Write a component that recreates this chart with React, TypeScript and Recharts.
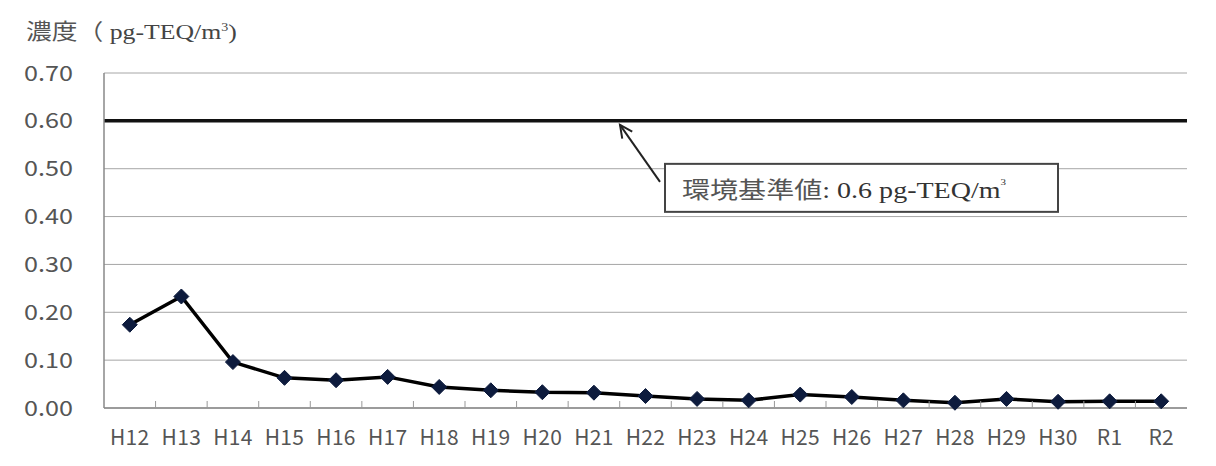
import React from 'react';
import { LineChart, Line, XAxis, YAxis, CartesianGrid, ReferenceLine } from 'recharts';

const years = ['H12', 'H13', 'H14', 'H15', 'H16', 'H17', 'H18', 'H19', 'H20', 'H21', 'H22', 'H23', 'H24', 'H25', 'H26', 'H27', 'H28', 'H29', 'H30', 'R1', 'R2'];
const concentration = [0.174, 0.233, 0.096, 0.063, 0.058, 0.065, 0.044, 0.037, 0.033, 0.032, 0.025, 0.019, 0.016, 0.028, 0.023, 0.016, 0.011, 0.019, 0.013, 0.014, 0.014];
const yTicks = [0, 0.1, 0.2, 0.3, 0.4, 0.5, 0.6, 0.7];
const standardValue = 0.6;
const standardLabelJa = '環境基準値';
const standardLabelUnit = ': 0.6 pg-TEQ/m';
const titleJa = '濃度';
const titleUnit = ' pg-TEQ/m';

const data = years.map((year, i) => ({ year, value: concentration[i] }));

const GOTHIC = '"Noto Sans CJK JP", "Noto Sans", sans-serif';
const SERIF = '"Liberation Serif", "DejaVu Serif", serif';

const Diamond = (props: any) => {
  const { cx, cy } = props;
  if (cx == null || cy == null) return null;
  const r = 7.5;
  return (
    <polygon
      points={`${cx},${cy - r} ${cx + r},${cy} ${cx},${cy + r} ${cx - r},${cy}`}
      fill="#0d1b3d"
      stroke="#0d1b3d"
      strokeWidth={1}
    />
  );
};

const XTick = (props: any) => {
  const { x, y, payload, index } = props;
  const off = payload?.offset ?? 0;
  const axisY = y - 22;
  return (
    <g>
      {index > 0 && (
        <line x1={x - off} y1={axisY} x2={x - off} y2={axisY - 7} stroke="#999" strokeWidth={1} />
      )}
      <text
        x={x}
        y={y}
        dy="0.71em"
        textAnchor="middle"
        fontSize={21}
        fill="#555"
        fontFamily={GOTHIC}
        letterSpacing={0.3}
      >
        {payload.value}
      </text>
    </g>
  );
};

const YTick = (props: any) => {
  const { x, y, payload } = props;
  return (
    <text
      transform={`translate(${x},${y}) scale(1.2,1)`}
      x={0}
      y={0}
      dy="0.36em"
      textAnchor="end"
      fontSize={21}
      fill="#555"
      fontFamily={GOTHIC}
    >
      {Number(payload.value).toFixed(2)}
    </text>
  );
};

const StandardAnnotation = (props: any) => {
  const vb = props.viewBox || {};
  const x0 = vb.x ?? 0;
  const y0 = vb.y ?? 0;
  const tipX = x0 + 516;
  const tipY = y0 + 4;
  const tailX = x0 + 556;
  const tailY = y0 + 61;
  const ang = Math.atan2(tailY - tipY, tailX - tipX);
  const len = 14;
  const spread = 0.45;
  const a1x = tipX + len * Math.cos(ang + spread);
  const a1y = tipY + len * Math.sin(ang + spread);
  const a2x = tipX + len * Math.cos(ang - spread);
  const a2y = tipY + len * Math.sin(ang - spread);
  const bx = x0 + 561;
  const by = y0 + 43;
  return (
    <g>
      <line x1={tailX} y1={tailY} x2={tipX} y2={tipY} stroke="#222" strokeWidth={2} />
      <polyline points={`${a1x},${a1y} ${tipX},${tipY} ${a2x},${a2y}`} fill="none" stroke="#222" strokeWidth={2} />
      <rect x={bx} y={by} width={393} height={48} fill="#fff" stroke="#444" strokeWidth={2} />
      <text transform={`translate(${bx + 17},${by + 34}) scale(1.22,1)`} x={0} y={0} fontSize={23} fill="#333">
        <tspan fontFamily={GOTHIC} fill="#555">{standardLabelJa}</tspan>
        <tspan fontFamily={SERIF}>{standardLabelUnit}</tspan>
        <tspan fontFamily={SERIF} fontSize={9} dy={-13}>3</tspan>
      </text>
    </g>
  );
};

export default function App() {
  return (
    <div style={{ position: 'absolute', left: 0, top: 0, width: 1216, height: 466, background: '#fff' }}>
      <div
        style={{
          position: 'absolute',
          left: 26,
          top: 12,
          fontSize: 22,
          color: '#444',
          whiteSpace: 'nowrap',
          lineHeight: '30px',
          transform: 'scaleX(1.17)',
          transformOrigin: 'left top',
        }}
      >
        <span style={{ fontFamily: GOTHIC, color: '#555' }}>{titleJa}</span>
        <span style={{ fontFamily: GOTHIC, color: '#555' }}>（</span>
        <span style={{ fontFamily: SERIF }}>{titleUnit}</span>
        <sup style={{ fontFamily: SERIF, fontSize: 12 }}>3</sup>
        <span style={{ fontFamily: SERIF }}>)</span>
      </div>
      <LineChart
        width={1216}
        height={466}
        data={data}
        margin={{ top: 73, right: 29, bottom: 28, left: 0 }}
      >
        <CartesianGrid horizontal vertical={false} stroke="#a6a6a6" strokeWidth={1} />
        <XAxis
          dataKey="year"
          scale="band"
          height={30}
          tickLine={false}
          tickSize={0}
          tickMargin={22}
          axisLine={{ stroke: '#888', strokeWidth: 1.5 }}
          tick={<XTick />}
          interval={0}
        />
        <YAxis
          width={104}
          domain={[0, 0.7]}
          ticks={yTicks}
          tickLine={false}
          tickSize={0}
          tickMargin={31}
          axisLine={{ stroke: '#888', strokeWidth: 1.5 }}
          tick={<YTick />}
        />
        <YAxis
          yAxisId="right"
          orientation="right"
          width={0}
          domain={[0, 0.7]}
          tick={false}
          tickLine={false}
          axisLine={{ stroke: '#888', strokeWidth: 1.5 }}
        />
        <ReferenceLine
          y={standardValue}
          stroke="#111"
          strokeWidth={3.5}
          label={<StandardAnnotation />}
          ifOverflow="visible"
        />
        <Line
          type="linear"
          dataKey="value"
          stroke="#000"
          strokeWidth={3.5}
          dot={<Diamond />}
          activeDot={false}
          isAnimationActive={false}
        />
      </LineChart>
    </div>
  );
}
